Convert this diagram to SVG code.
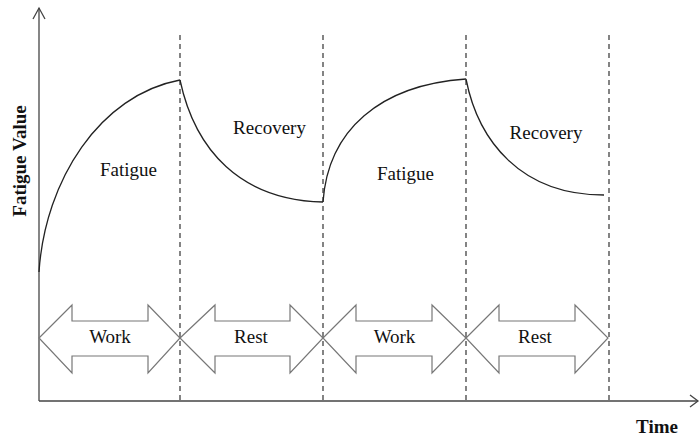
<svg xmlns="http://www.w3.org/2000/svg" width="700" height="439" viewBox="0 0 700 439">
<style>
.axis{stroke:#444;stroke-width:1.3;fill:none}
.dash{stroke:#333;stroke-width:1.2;stroke-dasharray:5,4;fill:none}
.curve{stroke:#222;stroke-width:1.3;fill:none}
.blk{fill:#fff;stroke:#777;stroke-width:1.2}
.lbl{font-family:"Liberation Serif","Times New Roman",serif;font-size:19px;fill:#111;text-anchor:middle}
.bold{font-family:"Liberation Serif","Times New Roman",serif;font-size:19px;font-weight:bold;fill:#111;text-anchor:middle}
</style>
<rect width="700" height="439" fill="#fff"/>
<g id="axes">
<line class="axis" x1="39" y1="401" x2="39" y2="8"/>
<polyline class="axis" points="33,19 39,8 45,19"/>
<line class="axis" x1="39" y1="401" x2="698" y2="401"/>
<polyline class="axis" points="690,395 698,401 690,407"/>
<text class="bold" transform="translate(26,161) rotate(-90)">Fatigue Value</text>
<text class="bold" x="657" y="433">Time</text>
</g>
<g id="connectors">
<line class="dash" x1="180" y1="35" x2="180" y2="401"/>
<line class="dash" x1="323" y1="35" x2="323" y2="401"/>
<line class="dash" x1="466" y1="35" x2="466" y2="401"/>
<line class="dash" x1="609" y1="35" x2="609" y2="401"/>
<path class="curve" d="M39,272 C45,180 100,95 180,80"/>
<path class="curve" d="M180,80 C195,150 240,200 323,202"/>
<path class="curve" d="M323,202 C328,130 380,85 466,79"/>
<path class="curve" d="M466,79 C478,140 520,195 604,195"/>
</g>
<g id="work1">
<polygon class="blk" points="39,338 72,305 72,321 148,321 148,305 180,338 148,373 148,356 72,356 72,373"/>
<text class="lbl" x="110" y="343">Work</text>
</g>
<g id="rest1">
<polygon class="blk" points="180,338 215,305 215,321 290,321 290,305 323,338 290,373 290,356 215,356 215,373"/>
<text class="lbl" x="251" y="343">Rest</text>
</g>
<g id="work2">
<polygon class="blk" points="323,338 356,305 356,321 432,321 432,305 466,338 432,373 432,356 356,356 356,373"/>
<text class="lbl" x="394.5" y="343">Work</text>
</g>
<g id="rest2">
<polygon class="blk" points="466,338 499,305 499,321 575,321 575,305 608,338 575,373 575,356 499,356 499,373"/>
<text class="lbl" x="535" y="343">Rest</text>
</g>
<g id="fatigue1"><text class="lbl" x="128.5" y="176">Fatigue</text></g>
<g id="recovery1"><text class="lbl" x="269.5" y="134">Recovery</text></g>
<g id="fatigue2"><text class="lbl" x="405.5" y="180">Fatigue</text></g>
<g id="recovery2"><text class="lbl" x="546" y="139">Recovery</text></g>
</svg>
